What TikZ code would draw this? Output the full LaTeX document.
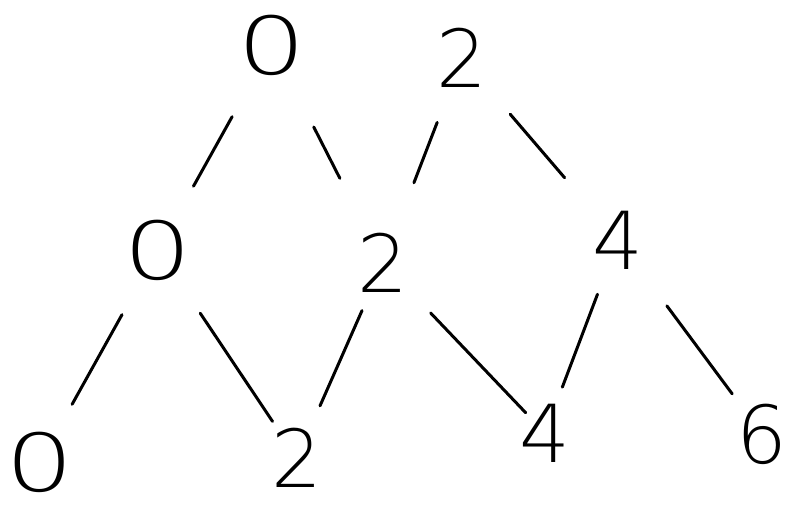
\documentclass[tikz,border=0pt]{standalone}
\usepackage{fontspec}
\setmainfont{DejaVu Sans ExtraLight}
\begin{document}
\begin{tikzpicture}[x=1pt,y=-1pt,
  num/.style={inner sep=0pt,font=\fontsize{80}{84}\selectfont},
  zero/.style={num,xscale=1.35},
  edge/.style={line width=3pt,line cap=round}]
\useasboundingbox (0,0) rectangle (789,512);
\node[zero] (t0) at (272,45) {0};
\node[num] (t2) at (462,58) {2};
\node[zero] (m0) at (158,250) {0};
\node[num] (m2) at (383,263) {2};
\node[num] (m4) at (618,240) {4};
\node[zero] (b0) at (40,462) {0};
\node[num] (b2) at (297,458) {2};
\node[num] (b4) at (545,433) {4};
\node[num] (b6) at (762,434) {6};
\draw[edge,shorten <=82pt,shorten >=73pt] (t0.center) -- (m0.center);
\draw[edge,shorten <=92pt,shorten >=95pt] (t0.center) -- (m2.center);
\draw[edge,shorten <=69pt,shorten >=86pt] (t2.center) -- (m2.center);
\draw[edge,shorten <=74pt,shorten >=82pt] (t2.center) -- (m4.center);
\draw[edge,shorten <=74pt,shorten >=66pt] (m0.center) -- (b0.center);
\draw[edge,shorten <=76pt,shorten >=44pt] (m0.center) -- (b2.center);
\draw[edge,shorten <=52pt,shorten >=57pt] (m2.center) -- (b2.center);
\draw[edge,shorten <=69pt,shorten >=28pt] (m2.center) -- (b4.center);
\draw[edge,shorten <=58pt,shorten >=49pt] (m4.center) -- (b4.center);
\draw[edge,shorten <=82pt,shorten >=50pt] (m4.center) -- (b6.center);
\end{tikzpicture}
\end{document}
